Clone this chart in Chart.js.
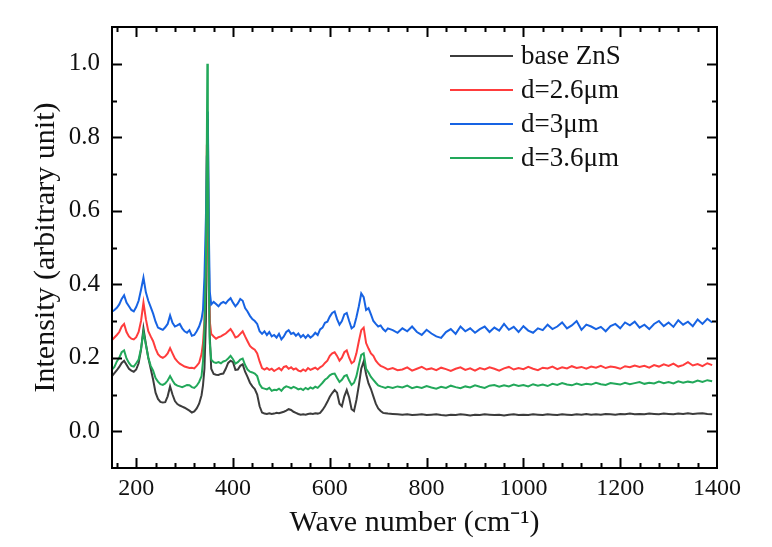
<!DOCTYPE html>
<html>
<head>
<meta charset="utf-8">
<script src="https://cdn.jsdelivr.net/npm/chart.js@4.4.0/dist/chart.umd.min.js"></script>
<style>
  html, body { margin: 0; padding: 0; background: #fff; }
  #wrap { width: 772px; height: 547px; position: relative; }
</style>
</head>
<body>
<div id="wrap"><canvas id="raman"></canvas></div>
<script>
// Raman shift (cm-1)
const waveNumbers = [
  150,155,160,165,170,175,180,185,190,195,200,205,210,215,220,225,230,235,240,245,
  250,255,260,265,270,275,280,285,290,295,300,305,310,315,320,325,330,335,
  338,341,344,346,347,348,350,352,355,360,
  365,370,375,380,385,390,395,400,405,410,415,420,425,430,435,440,445,450,455,460,
  465,470,475,480,485,490,495,500,505,510,515,520,525,530,535,540,545,550,555,560,
  565,570,575,580,585,590,595,600,605,610,615,620,625,630,635,640,645,650,655,660,
  665,670,675,680,685,690,695,700,705,710,715,720,
  730,740,750,760,770,780,790,800,810,820,830,840,850,860,870,880,890,900,910,920,
  930,940,950,960,970,980,990,1000,1010,1020,1030,1040,1050,1060,1070,1080,1090,1100,1110,1120,
  1130,1140,1150,1160,1170,1180,1190,1200,1210,1220,1230,1240,1250,1260,1270,1280,1290,1300,1310,1320,
  1330,1340,1350,1360,1370,1380,1390
];

const baseZnS = [
  0.150,0.158,0.166,0.175,0.186,0.192,0.181,0.170,0.165,0.162,
  0.168,0.185,0.222,0.280,0.238,0.200,0.170,0.140,0.105,0.088,
  0.080,0.078,0.079,0.095,0.122,0.100,0.082,0.074,0.070,0.067,
  0.064,0.060,0.056,0.051,0.054,0.062,0.075,0.098,
  0.125,0.170,0.30,0.55,0.70,0.85,0.50,0.26,0.17,0.156,
  0.154,0.153,0.156,0.157,0.170,0.186,0.192,0.188,0.167,0.168,
  0.178,0.182,0.162,0.148,0.132,0.122,0.115,0.100,0.068,0.051,
  0.048,0.047,0.049,0.047,0.048,0.050,0.049,0.051,0.053,0.056,
  0.060,0.058,0.053,0.050,0.047,0.045,0.046,0.045,0.047,0.048,
  0.047,0.049,0.048,0.050,0.058,0.068,0.080,0.094,0.104,0.112,
  0.105,0.075,0.068,0.095,0.112,0.092,0.060,0.055,0.085,0.125,
  0.170,0.190,0.155,0.130,0.115,0.095,0.075,0.062,0.055,0.050,
  0.049,0.048,
  0.047,0.046,0.045,0.046,0.044,0.045,0.046,0.044,0.045,0.046,
  0.044,0.043,0.045,0.044,0.046,0.045,0.043,0.045,0.044,0.046,
  0.045,0.044,0.045,0.043,0.045,0.046,0.044,0.045,0.044,0.046,
  0.045,0.044,0.046,0.045,0.044,0.046,0.045,0.044,0.046,0.045,
  0.047,0.045,0.046,0.045,0.047,0.046,0.045,0.047,0.046,0.048,
  0.046,0.047,0.046,0.048,0.047,0.046,0.048,0.047,0.046,0.048,
  0.047,0.049,0.047,0.048,0.049,0.047,0.046
];

const d26 = [
  0.248,0.255,0.262,0.270,0.285,0.292,0.270,0.258,0.252,0.250,
  0.256,0.270,0.300,0.350,0.305,0.272,0.258,0.245,0.225,0.210,
  0.203,0.200,0.204,0.212,0.226,0.212,0.198,0.190,0.184,0.180,
  0.176,0.174,0.172,0.173,0.171,0.178,0.186,0.210,
  0.24,0.30,0.48,0.78,0.70,0.55,0.40,0.30,0.265,0.258,
  0.252,0.256,0.258,0.262,0.266,0.272,0.278,0.268,0.255,0.258,
  0.265,0.272,0.258,0.245,0.232,0.226,0.222,0.212,0.190,0.172,
  0.168,0.172,0.167,0.170,0.164,0.168,0.172,0.166,0.175,0.177,
  0.170,0.174,0.168,0.171,0.165,0.163,0.168,0.164,0.172,0.167,
  0.170,0.173,0.168,0.174,0.178,0.186,0.192,0.205,0.212,0.215,
  0.205,0.192,0.200,0.215,0.220,0.200,0.185,0.190,0.212,0.245,
  0.275,0.282,0.240,0.225,0.212,0.205,0.192,0.184,0.178,0.175,
  0.172,0.168,
  0.172,0.166,0.168,0.174,0.165,0.170,0.175,0.168,0.171,0.166,
  0.173,0.169,0.164,0.170,0.174,0.167,0.171,0.165,0.172,0.168,
  0.174,0.170,0.165,0.171,0.175,0.168,0.172,0.169,0.175,0.170,
  0.166,0.173,0.171,0.176,0.169,0.174,0.171,0.177,0.172,0.175,
  0.170,0.176,0.173,0.178,0.172,0.176,0.174,0.170,0.177,0.174,
  0.179,0.175,0.178,0.173,0.180,0.176,0.182,0.178,0.184,0.176,
  0.180,0.188,0.179,0.183,0.177,0.185,0.180
];

const d3 = [
  0.325,0.330,0.336,0.345,0.360,0.370,0.350,0.340,0.330,0.326,
  0.338,0.355,0.385,0.418,0.378,0.355,0.338,0.320,0.298,0.282,
  0.279,0.276,0.283,0.292,0.315,0.295,0.285,0.288,0.292,0.280,
  0.272,0.268,0.275,0.260,0.262,0.272,0.285,0.305,
  0.33,0.42,0.58,0.75,0.70,0.87,0.55,0.38,0.345,0.352,
  0.346,0.340,0.348,0.352,0.348,0.356,0.362,0.350,0.340,0.348,
  0.360,0.355,0.335,0.326,0.314,0.305,0.300,0.292,0.272,0.265,
  0.272,0.262,0.270,0.258,0.262,0.255,0.265,0.250,0.258,0.270,
  0.275,0.265,0.268,0.260,0.266,0.256,0.262,0.254,0.262,0.255,
  0.260,0.268,0.262,0.277,0.282,0.295,0.298,0.312,0.322,0.326,
  0.305,0.290,0.300,0.318,0.322,0.300,0.280,0.285,0.310,0.340,
  0.375,0.365,0.330,0.335,0.318,0.300,0.292,0.285,0.288,0.278,
  0.272,0.280,
  0.275,0.268,0.280,0.272,0.285,0.270,0.262,0.276,0.266,0.258,
  0.254,0.270,0.278,0.265,0.285,0.272,0.280,0.268,0.278,0.285,
  0.270,0.282,0.274,0.292,0.276,0.284,0.270,0.286,0.274,0.268,
  0.280,0.275,0.290,0.278,0.285,0.296,0.280,0.288,0.300,0.276,
  0.290,0.285,0.278,0.284,0.272,0.286,0.292,0.280,0.296,0.288,
  0.298,0.282,0.290,0.278,0.292,0.300,0.286,0.296,0.284,0.302,
  0.290,0.298,0.286,0.304,0.292,0.306,0.296
];

const d36 = [
  0.168,0.175,0.190,0.200,0.215,0.220,0.198,0.186,0.178,0.176,
  0.185,0.195,0.225,0.270,0.235,0.200,0.178,0.165,0.145,0.135,
  0.128,0.126,0.130,0.138,0.150,0.138,0.128,0.124,0.122,0.120,
  0.123,0.126,0.125,0.120,0.118,0.124,0.134,0.150,
  0.19,0.28,0.45,0.80,1.0,0.78,0.40,0.24,0.195,0.188,
  0.186,0.188,0.185,0.190,0.192,0.198,0.205,0.196,0.184,0.188,
  0.195,0.198,0.180,0.168,0.162,0.160,0.157,0.150,0.128,0.118,
  0.116,0.114,0.118,0.110,0.113,0.112,0.116,0.110,0.118,0.122,
  0.120,0.117,0.121,0.118,0.114,0.116,0.112,0.118,0.114,0.119,
  0.116,0.121,0.118,0.125,0.132,0.140,0.145,0.152,0.156,0.157,
  0.145,0.134,0.140,0.150,0.153,0.138,0.126,0.132,0.150,0.180,
  0.208,0.212,0.170,0.160,0.148,0.140,0.132,0.125,0.122,0.120,
  0.118,0.121,
  0.118,0.122,0.119,0.124,0.117,0.121,0.118,0.123,0.119,0.116,
  0.121,0.118,0.124,0.120,0.117,0.122,0.119,0.125,0.121,0.118,
  0.124,0.126,0.121,0.125,0.122,0.127,0.123,0.126,0.122,0.128,
  0.124,0.127,0.123,0.129,0.126,0.131,0.127,0.125,0.130,0.126,
  0.129,0.127,0.132,0.128,0.126,0.131,0.129,0.127,0.132,0.128,
  0.131,0.134,0.129,0.132,0.130,0.135,0.131,0.134,0.130,0.136,
  0.132,0.135,0.133,0.138,0.134,0.139,0.136
];

const xTickValues = [200, 400, 600, 800, 1000, 1200, 1400];
const yTickValues = [0, 0.2, 0.4, 0.6, 0.8, 1.0];

const serif = "'Liberation Serif', 'Times New Roman', serif";
Chart.defaults.font.family = serif;
Chart.defaults.color = '#111';

function pares(ys) {
  return waveNumbers.map((x, i) => ({ x: x, y: ys[i] }));
}

// moldura + ticks pra dentro nos 4 lados
const moldura = {
  id: 'moldura',
  afterDraw(chart) {
    const ctx = chart.ctx;
    const a = chart.chartArea;
    const xs = chart.scales.x, ys = chart.scales.y;
    ctx.save();
    ctx.strokeStyle = '#000';
    ctx.lineWidth = 2;
    ctx.strokeRect(a.left, a.top, a.right - a.left, a.bottom - a.top);
    ctx.beginPath();
    for (let v = 160; v < 1400; v += 40) {
      const px = Math.round(xs.getPixelForValue(v)) + 0.5;
      const len = xTickValues.includes(v) ? 10 : 5;
      ctx.moveTo(px, a.bottom); ctx.lineTo(px, a.bottom - len);
      ctx.moveTo(px, a.top); ctx.lineTo(px, a.top + len);
    }
    for (let k = 0; k <= 10; k++) {
      const v = k / 10;
      const py = Math.round(ys.getPixelForValue(v)) + 0.5;
      const len = k % 2 === 0 ? 10 : 5;
      ctx.moveTo(a.left, py); ctx.lineTo(a.left + len, py);
      ctx.moveTo(a.right, py); ctx.lineTo(a.right - len, py);
    }
    ctx.stroke();
    ctx.restore();
  }
};

// legenda dentro do gráfico
const legenda = {
  id: 'legenda',
  afterDraw(chart) {
    const ctx = chart.ctx;
    ctx.save();
    ctx.font = '27px ' + serif;
    ctx.textBaseline = 'middle';
    ctx.fillStyle = '#111';
    chart.data.datasets.forEach((ds, i) => {
      const y = 56 + i * 34;
      ctx.strokeStyle = ds.borderColor;
      ctx.lineWidth = 2;
      ctx.beginPath();
      ctx.moveTo(450, y); ctx.lineTo(513, y);
      ctx.stroke();
      ctx.fillText(ds.label, 521, y + 1);
    });
    ctx.restore();
  }
};

new Chart(document.getElementById('raman'), {
  type: 'line',
  data: {
    datasets: [
      { label: 'base ZnS', data: pares(baseZnS), borderColor: '#3c3c3c', order: 4 },
      { label: 'd=2.6\u03bcm', data: pares(d26), borderColor: '#ff3c3c', order: 3 },
      { label: 'd=3\u03bcm', data: pares(d3), borderColor: '#1763e3', order: 2 },
      { label: 'd=3.6\u03bcm', data: pares(d36), borderColor: '#22a85a', order: 1 }
    ]
  },
  options: {
    responsive: true,
    maintainAspectRatio: false,
    animation: false,
    elements: {
      line: { borderWidth: 2, tension: 0, fill: false },
      point: { radius: 0 }
    },
    layout: { padding: { top: 22, right: 55, left: 0, bottom: 0 } },
    plugins: {
      legend: { display: false },
      tooltip: { enabled: false }
    },
    scales: {
      x: {
        type: 'linear',
        min: 150,
        max: 1400,
        grid: { display: false, drawTicks: false },
        border: { display: false },
        afterBuildTicks: s => { s.ticks = xTickValues.map(v => ({ value: v })); },
        afterFit: s => { s.height = 79; },
        ticks: { font: { size: 24 }, padding: 6, maxRotation: 0, callback: v => String(v) },
        title: {
          display: true,
          text: 'Wave number (cm\u207b\u00b9)',
          font: { size: 30, lineHeight: 1.2 },
          padding: { top: 0, bottom: 6 }
        }
      },
      y: {
        min: -0.1,
        max: 1.1,
        grid: { display: false, drawTicks: false },
        border: { display: false },
        afterBuildTicks: s => { s.ticks = yTickValues.map(v => ({ value: v })); },
        afterFit: s => { s.width = 112; },
        ticks: { font: { size: 25 }, padding: 12, callback: v => v.toFixed(1) },
        title: {
          display: true,
          text: 'Intensity (arbitrary unit)',
          font: { size: 30, lineHeight: 1.2 },
          padding: { top: 28, bottom: 0 }
        }
      }
    }
  },
  plugins: [moldura, legenda]
});
</script>
</body>
</html>
